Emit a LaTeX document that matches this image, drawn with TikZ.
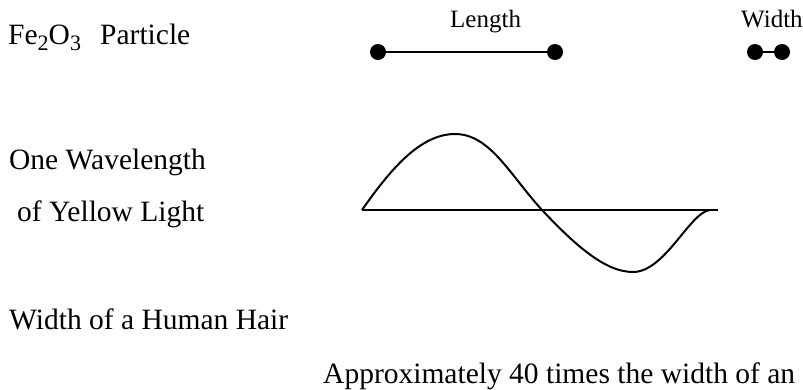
\documentclass[tikz,border=0pt]{standalone}
\usepackage{fontspec}
\setmainfont{Liberation Serif}
\newcommand{\mysub}[1]{\raisebox{-6pt}{\fontsize{22}{22}\selectfont #1}}
\begin{document}
\begin{tikzpicture}[x=1pt,y=-1pt,
  lbl/.style={anchor=base west,inner sep=0pt,font=\fontsize{29.5}{32}\selectfont},
  small/.style={anchor=base west,inner sep=0pt,font=\fontsize{25}{28}\selectfont},
  dot/.style={circle,fill=black,inner sep=0pt,minimum size=16pt},
  conn/.style={line width=2pt}]
\useasboundingbox (0,0) rectangle (803,389);
\node[lbl] (fe) at (8,44) {Fe\mysub{2}O\mysub{3}\hspace{0.65em}Particle};
\node[small] (len) at (450,27) {Length};
\node[small] (wid) at (741,27) {Width};
\node[dot] (l1) at (378,52) {};
\node[dot] (l2) at (555,52) {};
\node[dot] (w1) at (755,52) {};
\node[dot] (w2) at (782,52) {};
\draw[conn] (l1) -- (l2);
\draw[conn] (w1) -- (w2);
\node[lbl] (one) at (9,169) {One Wavelength};
\node[lbl] (yel) at (17,221) {of Yellow Light};
\node[lbl] (hair) at (9,329) {Width of a Human Hair};
\node[lbl] (approx) at (323,383) {Approximately 40 times the width of an};
\coordinate (a0) at (362,210);
\coordinate (a1) at (718,210);
\draw[conn] (a0) -- (a1);
\draw[conn] (a0) .. controls (390,170) and (420,134) .. (455,134)
  .. controls (490,134) and (510,175) .. (542,210)
  .. controls (575,245) and (605,272) .. (633,272)
  .. controls (665,272) and (690,212) .. (710,210);
\end{tikzpicture}
\end{document}
